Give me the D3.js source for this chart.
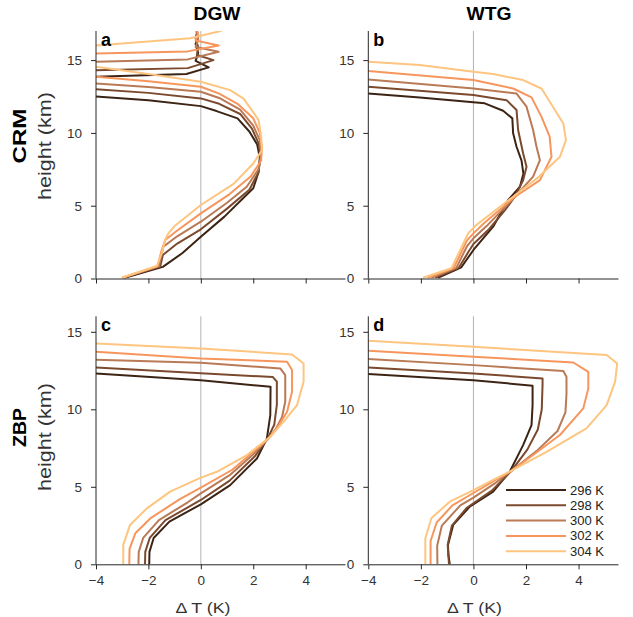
<!DOCTYPE html>
<html><head><meta charset="utf-8">
<script src="https://cdn.jsdelivr.net/npm/d3@7"></script>
<style>
html,body{margin:0;padding:0;background:#fff;}
svg{display:block;font-family:"Liberation Sans",Arial,sans-serif;}
</style></head>
<body>
<svg id="chart" width="633" height="617"></svg>
<script>
// ---------- data: [ΔT (K), height (km)] ----------
const seriesLabels = ["296 K","298 K","300 K","302 K","304 K"];
const seriesColors = ["#3c2415","#7b4a2e","#b97a55","#f7965c","#fdc57f"];
const xTicks = [-4,-2,0,2,4];
const yTicks = [0,5,10,15];

// a: CRM, DGW
const a296 = [[-2.9,0.05],[-1.45,0.8],[-0.7,1.75],[0,2.87],[0.9,4.25],[2.0,6.2],[2.2,7.3],[2.25,8.3],[2.15,9.2],[1.85,10.1],[1.4,11.0],[0.6,11.5],[0,11.84],[-2,12.25],[-4,12.5],[-7,12.9],[-7,13.7],[-4,13.85],[-0.55,14.05],[0.3,14.5],[-0.2,14.95],[-0.1,15.5],[-0.2,16.1],[-0.1,16.6],[-0.2,17.3]];
const a298 = [[-2.95,0.05],[-1.55,0.82],[-1.45,1.61],[-0.9,2.4],[0,3.38],[1.0,4.8],[1.85,6.1],[2.2,7.3],[2.28,8.4],[2.2,9.3],[1.95,10.3],[1.5,11.3],[0.7,12.0],[0,12.37],[-2,12.75],[-4,13.0],[-7,13.4],[-7,14.1],[-4,14.3],[-0.5,14.45],[0.48,15.0],[-0.15,15.35],[-0.1,15.9],[-0.2,16.5],[-0.1,17.3]];
const a300 = [[-3.0,0.05],[-1.6,0.84],[-1.43,2.19],[-0.9,2.9],[0,3.9],[1.0,5.2],[1.75,6.3],[2.2,7.5],[2.3,8.5],[2.25,9.5],[2.0,10.5],[1.5,11.6],[0.7,12.4],[0,12.83],[-2,13.15],[-4,13.4],[-7,13.8],[-7,14.7],[-4,14.88],[-0.5,15.05],[0.68,15.57],[-0.2,15.9],[-0.1,16.4],[-0.2,17.3]];
const a302 = [[-3.0,0.05],[-1.65,0.85],[-1.5,1.9],[-1.36,2.64],[-0.9,3.3],[0,4.47],[1.1,5.8],[1.9,7.0],[2.3,8.1],[2.33,9.0],[2.25,10.0],[2.0,11.0],[1.4,12.0],[0.7,12.7],[0,13.17],[-2,13.55],[-4,13.85],[-7,14.3],[-7,15.3],[-4,15.46],[-0.5,15.6],[0.68,16.0],[-0.2,16.35],[-0.1,16.8],[-0.2,17.3]];
const a304 = [[-3.02,0.05],[-1.68,0.86],[-1.5,1.7],[-1.35,2.7],[-1.24,3.1],[-1.0,3.6],[0,5.05],[1.25,6.5],[2.0,7.9],[2.33,8.8],[2.3,9.8],[2.2,10.9],[1.63,12.35],[1.12,12.94],[0,13.51],[-2,14.05],[-4,14.54],[-7,15.0],[-7,15.8],[-4,16.0],[-0.4,16.5],[0.75,17.0],[1.3,17.4]];

// b: CRM, WTG
const b296 = [[-1.35,0.05],[-0.46,0.77],[0,1.96],[0.75,3.56],[1.32,5.39],[1.77,6.3],[1.9,7.2],[1.83,8.1],[1.64,9.05],[1.51,9.97],[1.48,11.0],[1.13,11.52],[0.43,12.03],[0,12.1],[-2.04,12.44],[-4,12.71],[-6,13.0]];
const b298 = [[-1.45,0.05],[-0.55,0.75],[-0.2,1.8],[0,2.37],[0.6,3.4],[1.2,4.7],[1.57,5.6],[1.89,6.75],[2.02,7.67],[1.89,8.6],[1.7,10.2],[1.64,11.57],[1.26,12.25],[0,12.6],[-4,13.17],[-6,13.4]];
const b300 = [[-1.6,0.05],[-0.65,0.73],[-0.25,2.2],[0,2.76],[0.5,3.6],[1.57,5.6],[2.27,7.0],[2.53,8.13],[2.4,9.05],[2.27,10.2],[2.02,11.8],[1.64,12.7],[0,13.05],[-4,13.67],[-6,13.9]];
const b302 = [[-1.75,0.05],[-0.75,0.72],[-0.25,2.6],[0,3.1],[0.4,3.8],[1.57,5.6],[2.53,6.76],[2.97,8.36],[2.9,9.74],[2.59,11.1],[2.21,12.44],[1.51,13.05],[0,13.63],[-4,14.26],[-6,14.5]];
const b304 = [[-1.92,0.05],[-0.84,0.7],[-0.2,3.1],[0.11,3.67],[1.51,5.62],[2.5,7.0],[3.29,8.36],[3.52,9.5],[3.42,10.65],[2.59,13.05],[1.89,13.63],[0.75,14.04],[0,14.2],[-2.04,14.66],[-4,14.89],[-6,15.1]];

// c: ZBP, DGW
const c296 = [[-1.97,0],[-1.96,0.8],[-1.8,1.7],[-1.2,2.75],[0,3.87],[1.12,5.11],[2.14,6.83],[2.52,8.12],[2.65,9.63],[2.66,11.45],[0,11.88],[-4,12.31],[-6,12.6]];
const c298 = [[-2.13,0],[-2.12,0.8],[-1.95,1.7],[-1.35,2.85],[0,4.15],[1.1,5.4],[2.05,6.95],[2.55,8.12],[2.8,9.0],[2.9,10.3],[2.9,11.78],[2.75,12.08],[0,12.33],[-4,12.7],[-6,12.9]];
const c300 = [[-2.38,0],[-2.37,0.8],[-2.2,1.7],[-1.6,2.85],[-0.5,4.0],[0,4.58],[1.1,5.75],[2.0,7.1],[2.58,8.12],[2.85,8.7],[3.1,9.5],[3.22,10.5],[3.22,12.2],[3.03,12.64],[0,13.0],[-4,13.2],[-6,13.35]];
const c302 = [[-2.73,0],[-2.72,1.0],[-2.5,2.0],[-1.9,3.0],[-0.8,4.2],[0,4.94],[1.2,6.1],[2.1,7.4],[2.58,8.12],[2.9,8.77],[3.29,9.84],[3.48,11.13],[3.48,12.53],[3.29,13.07],[0,13.28],[-4,13.71],[-6,13.9]];
const c304 = [[-2.96,0],[-2.96,1.25],[-2.7,2.54],[-2.06,3.61],[-1.17,4.69],[0,5.59],[0.61,5.97],[1.76,7.05],[2.65,8.23],[3.16,9.2],[3.67,10.27],[3.92,11.78],[3.92,12.96],[3.48,13.54],[0,13.93],[-4,14.25],[-6,14.4]];

// d: ZBP, WTG
const d296 = [[-0.9,0],[-0.95,0.6],[-0.97,1.25],[-0.77,2.54],[-0.14,3.72],[0.75,4.69],[1.38,5.97],[1.89,7.69],[2.21,8.98],[2.25,10.27],[2.25,11.52],[0,11.88],[-4,12.27],[-6,12.45]];
const d298 = [[-0.93,0],[-0.98,1.25],[-0.82,2.5],[-0.25,3.65],[0.7,4.75],[1.45,6.04],[2.05,7.4],[2.45,8.7],[2.6,10.0],[2.63,11.6],[2.63,11.99],[0,12.31],[-4,12.7],[-6,12.9]];
const d300 = [[-1.37,0],[-1.38,1.2],[-1.2,2.5],[-0.5,3.8],[0,4.3],[0.8,5.2],[1.45,6.04],[2.4,7.3],[3.2,8.6],[3.5,9.8],[3.54,11.0],[3.54,12.1],[3.42,12.47],[0,12.85],[-4,13.24],[-6,13.4]];
const d302 = [[-1.63,0],[-1.63,1.5],[-1.4,2.7],[-0.8,3.8],[0,4.6],[0.7,5.3],[1.45,6.04],[2.27,7.05],[3.29,8.34],[4.18,10.06],[4.37,11.35],[4.37,12.42],[3.8,13.02],[0,13.39],[-4,13.78],[-6,13.95]];
const d304 = [[-1.83,0],[-1.83,1.68],[-1.6,2.97],[-0.9,4.04],[0,4.79],[0.75,5.44],[1.45,6.04],[2.78,7.26],[4.3,8.77],[5.07,10.27],[5.39,11.78],[5.47,12.96],[5.07,13.5],[0,14.03],[-4,14.42],[-6,14.6]];

// ---------- layout ----------
const svg = d3.select("#chart");
const axisColor = "#262626";
const panels = [
  {id:"a", data:[a296,a298,a300,a302,a304], x0:96,   x1:345, yb:278.5, yt:31,    ymax:17, xlab:false},
  {id:"b", data:[b296,b298,b300,b302,b304], x0:368.3,x1:618, yb:278.5, yt:31,    ymax:17, xlab:false},
  {id:"c", data:[c296,c298,c300,c302,c304], x0:96,   x1:345, yb:564.3, yt:316.3, ymax:16, xlab:true, lx:203},
  {id:"d", data:[d296,d298,d300,d302,d304], x0:368.3,x1:618, yb:564.3, yt:316.3, ymax:16, xlab:true, lx:474.5}
];

const defs = svg.append("defs");
panels.forEach(p => {
  const x = d3.scaleLinear().domain([-4,5.5]).range([p.x0,p.x1]);
  const y = d3.scaleLinear().domain([0,p.ymax]).range([p.yb,p.yt]);
  const g = svg.append("g");
  defs.append("clipPath").attr("id","clip-"+p.id)
    .append("rect").attr("x",p.x0).attr("y",p.yt).attr("width",p.x1-p.x0).attr("height",p.yb-p.yt);

  g.append("line").attr("x1",x(0)).attr("x2",x(0)).attr("y1",p.yt).attr("y2",p.yb)
    .attr("stroke","#b3b3b3").attr("stroke-width",1);

  const line = d3.line().x(d=>x(d[0])).y(d=>y(d[1]));
  const lg = g.append("g").attr("clip-path","url(#clip-"+p.id+")");
  p.data.forEach((s,i) => {
    lg.append("path").attr("d",line(s)).attr("fill","none")
      .attr("stroke",seriesColors[i]).attr("stroke-width",2).attr("stroke-linejoin","round");
  });

  const xa = d3.axisBottom(x).tickValues(xTicks).tickSize(5).tickSizeOuter(0).tickPadding(6);
  if(!p.xlab) xa.tickFormat("");
  const gx = g.append("g").attr("transform",`translate(0,${p.yb})`).call(xa);
  const ya = d3.axisLeft(y).tickValues(yTicks).tickSize(5).tickSizeOuter(0).tickPadding(9);
  const gy = g.append("g").attr("transform",`translate(${p.x0},0)`).call(ya);
  [gx,gy].forEach(a => {
    a.select(".domain").attr("stroke",axisColor);
    a.selectAll(".tick line").attr("stroke",axisColor);
    a.selectAll(".tick text").attr("fill","#333").attr("font-size",13.5)
      .attr("font-family","Liberation Sans, Arial, sans-serif");
  });
  gy.select(".domain").attr("d",`M0,${p.yt}V${p.yb}`);

  g.append("text").attr("x",p.x0+5).attr("y",p.yt+15).text(p.id)
    .attr("font-weight","bold").attr("font-size",18).attr("fill","#000");

  if(p.xlab){
    g.append("text").attr("x",p.lx).attr("y",612.5).attr("text-anchor","middle")
      .attr("font-size",14.5).attr("fill","#333")
      .attr("textLength",55).attr("lengthAdjust","spacingAndGlyphs").text("Δ T (K)");
  }
});

// column titles
svg.append("text").attr("x",217).attr("y",20).attr("text-anchor","middle")
  .attr("font-weight","bold").attr("font-size",18)
  .attr("textLength",47).attr("lengthAdjust","spacingAndGlyphs").text("DGW");
svg.append("text").attr("x",489).attr("y",20).attr("text-anchor","middle")
  .attr("font-weight","bold").attr("font-size",18)
  .attr("textLength",45).attr("lengthAdjust","spacingAndGlyphs").text("WTG");

// row labels
[["CRM",136,146],["ZBP",427.5,437]].forEach(([lab,cy,hy]) => {
  svg.append("text").attr("transform",`translate(26,${cy}) rotate(-90)`).attr("text-anchor","middle")
    .attr("font-weight","bold").attr("font-size",18.5)
    .attr("textLength",lab==="CRM"?55:39).attr("lengthAdjust","spacingAndGlyphs").text(lab);
  svg.append("text").attr("transform",`translate(51,${hy}) rotate(-90)`).attr("text-anchor","middle")
    .attr("font-size",18).attr("fill","#333")
    .attr("textLength",108).attr("lengthAdjust","spacingAndGlyphs").text("height (km)");
});

// legend
const leg = svg.append("g");
seriesLabels.forEach((lab,i) => {
  const yy = 490 + i*15.3;
  leg.append("line").attr("x1",506).attr("x2",566).attr("y1",yy).attr("y2",yy)
    .attr("stroke",seriesColors[i]).attr("stroke-width",2);
  leg.append("text").attr("x",570).attr("y",yy).attr("dy","0.35em")
    .attr("font-size",13).attr("fill","#222").text(lab);
});
</script>
</body></html>
